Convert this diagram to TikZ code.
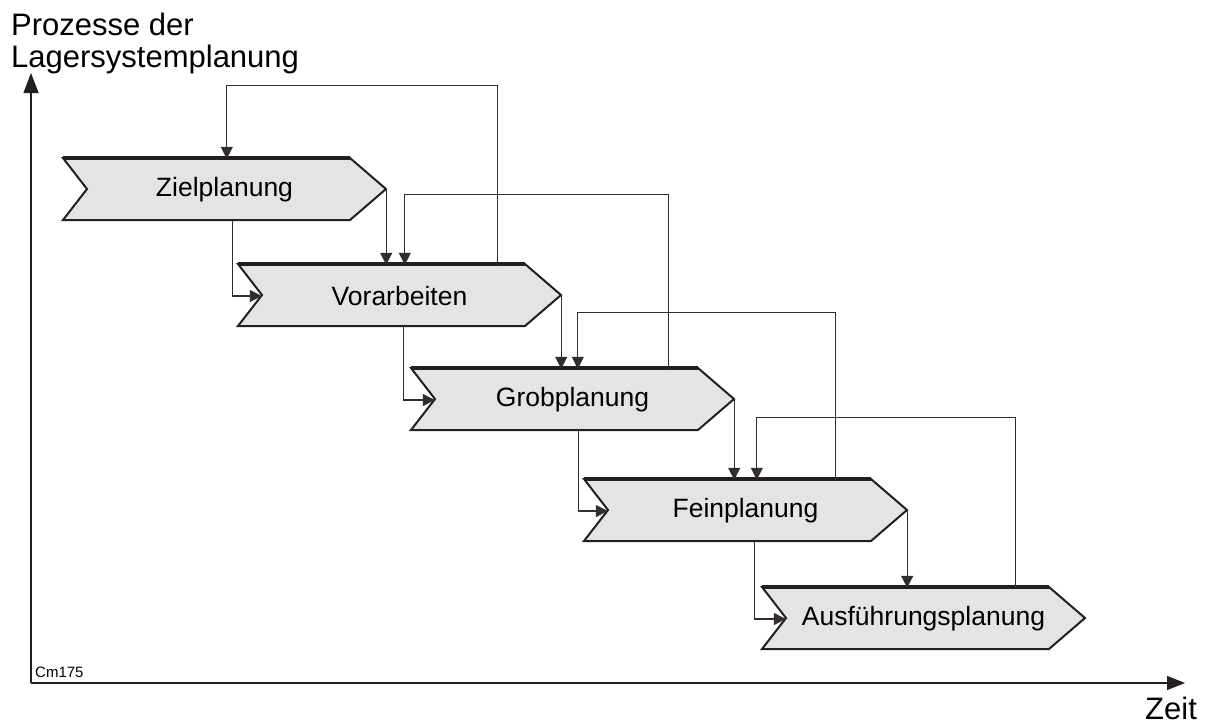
\documentclass[tikz,border=0pt]{standalone}
\usepackage{fontspec}
\setmainfont{Liberation Sans}
\usetikzlibrary{arrows.meta,calc}
\definecolor{chevfill}{RGB}{228,228,231}
\definecolor{ink}{RGB}{35,31,32}
\definecolor{wire}{RGB}{50,46,46}
\tikzset{
  chevtext/.style={minimum width=323pt, minimum height=62pt, inner sep=0pt,
    font=\fontsize{26.5}{30}\selectfont, text=black},
  chevshape/.style={fill=chevfill, draw=ink, line width=2pt, line join=miter},
  chevtop/.style={draw=ink, line width=3.5pt},
  conn/.style={draw=wire, line width=1.3pt, -{Triangle[length=12pt,width=12pt]}},
  axis/.style={draw=ink, line width=1.3pt},
  title/.style={anchor=base west, inner sep=0pt, font=\fontsize{31}{31}\selectfont},
}
\newcommand\mychevron[4]{%
  \path[chevshape] (#2,#3) -- ++(287,0) -- ++(36,31) -- ++(-36,31) -- ++(-287,0) -- ++(24,-31) -- cycle;
  \draw[chevtop] (#2,#3) -- ++(287,0);
  \node[chevtext] (#1) at (#2+161.5,#3+32) {#4};
}
\begin{document}
\begin{tikzpicture}[x=1pt,y=-1pt]
\useasboundingbox (0,0) rectangle (1210,724);
% axes
\coordinate (o) at (31,683);
\coordinate (ytop) at (31,73);
\coordinate (xend) at (1185,683);
\draw[axis,-{Triangle[length=20pt,width=15pt]}] (o) -- (ytop);
\draw[axis,-{Triangle[length=18pt,width=14pt]}] (o) -- (xend);
% labels
\node[title] (t1) at (11,35) {Prozesse der};
\node[title] (t2) at (11,67) {Lagersystemplanung};
\node[title] (zeit) at (1145,719) {Zeit};
\node[anchor=base west, inner sep=0pt, font=\fontsize{15}{15}\selectfont] (cm) at (35,677) {Cm175};
% chevrons
\mychevron{z}{63}{158}{Zielplanung}
\mychevron{v}{238}{264}{Vorarbeiten}
\mychevron{g}{411}{368}{Grobplanung}
\mychevron{f}{584}{479}{Feinplanung}
\mychevron{a}{762}{587}{Ausführungsplanung}
% tip arrows
\draw[conn] (z.east) -- (z.east |- v.north);
\draw[conn] (v.east) -- (v.east |- g.north);
\draw[conn] (g.east) -- (g.east |- f.north);
\draw[conn] (f.east) -- (f.east |- a.north);
% bottom connectors into notch
\draw[conn] ([xshift=170pt]z.south west) |- ([xshift=24pt]v.west);
\draw[conn] ([xshift=166pt]v.south west) |- ([xshift=24pt]g.west);
\draw[conn] ([xshift=168pt]g.south west) |- ([xshift=24pt]f.west);
\draw[conn] ([xshift=171pt]f.south west) |- ([xshift=24pt]a.west);
% feedback loops
\draw[conn] ([xshift=260pt]v.north west) |- ([xshift=164pt,yshift=73pt]z.north west) -- ([xshift=164pt]z.north west);
\draw[conn] ([xshift=258pt]g.north west) |- ([xshift=167pt,yshift=70pt]v.north west) -- ([xshift=167pt]v.north west);
\draw[conn] ([xshift=252pt]f.north west) |- ([xshift=167pt,yshift=56pt]g.north west) -- ([xshift=167pt]g.north west);
\draw[conn] ([xshift=254pt]a.north west) |- ([xshift=173pt,yshift=62pt]f.north west) -- ([xshift=173pt]f.north west);
\end{tikzpicture}
\end{document}
